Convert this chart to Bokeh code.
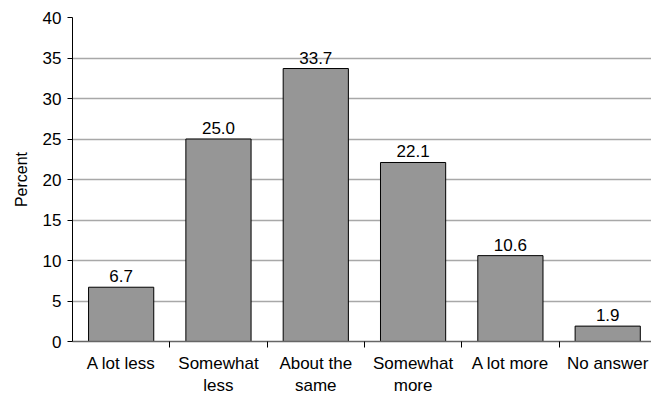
from bokeh.plotting import figure
from bokeh.models import Range1d, FixedTicker, ColumnDataSource
from bokeh.core.properties import value
from bokeh.embed import file_html
from bokeh.resources import INLINE

categories = ["A lot less", "Somewhat\nless", "About the\nsame", "Somewhat\nmore", "A lot more", "No answer"]
percent = [6.7, 25.0, 33.7, 22.1, 10.6, 1.9]
y_ticks = [0, 5, 10, 15, 20, 25, 30, 35, 40]

FONT = "Liberation Sans"
SIZE = "17px"

centers = [i + 0.5 for i in range(len(categories))]
bounds = [float(i) for i in range(1, len(categories))]
src = ColumnDataSource(dict(
    x=centers,
    top=percent,
    label=["%.1f" % v for v in percent],
))

p = figure(width=651, height=398, output_backend="svg", toolbar_location=None,
           x_range=Range1d(0, 5.95), y_range=Range1d(0, 40),
           min_border_left=72, min_border_right=0, min_border_top=17, min_border_bottom=55)
p.outline_line_color = None
p.background_fill_color = "white"
p.border_fill_color = "white"

# value axis
yticker = FixedTicker(ticks=y_ticks, minor_ticks=[])
yaxis = p.yaxis[0]
yaxis.ticker = yticker
yaxis.axis_label = "Percent"
yaxis.axis_label_text_font = FONT
yaxis.axis_label_text_font_style = "normal"
yaxis.axis_label_text_font_size = "16px"
yaxis.axis_label_text_color = "black"
yaxis.axis_label_standoff = 10
yaxis.major_label_text_font = FONT
yaxis.major_label_text_font_size = SIZE
yaxis.major_label_text_color = "black"
yaxis.major_label_standoff = 6
yaxis.axis_line_color = "black"
yaxis.major_tick_line_color = "black"
yaxis.major_tick_out = 5
yaxis.major_tick_in = 0
yaxis.minor_tick_line_color = None

# category axis: labels at bar centres, tick marks between categories
xaxis = p.xaxis[0]
xaxis.ticker = FixedTicker(ticks=centers, minor_ticks=bounds)
xaxis.major_label_overrides = {c: name for c, name in zip(centers, categories)}
xaxis.major_label_text_font = FONT
xaxis.major_label_text_font_size = SIZE
xaxis.major_label_text_color = "black"
xaxis.major_label_standoff = 6
xaxis.major_tick_out = 0
xaxis.major_tick_in = 0
xaxis.minor_tick_out = 6
xaxis.minor_tick_in = 0
xaxis.minor_tick_line_color = "black"
xaxis.axis_line_color = "#666666"
xaxis.axis_line_width = 1.5

# horizontal gridlines at the value ticks, drawn behind the bars
p.xgrid.visible = False
p.ygrid.ticker = yticker
p.ygrid.grid_line_color = "#a8a8a8"
p.ygrid.grid_line_width = 1.3

p.vbar(x="x", top="top", width=0.67, bottom=0, source=src,
       fill_color="#969696", line_color="black", line_width=1)

p.text(x="x", y="top", text="label", source=src,
       text_align="center", text_baseline="alphabetic", y_offset=-11,
       text_font=value(FONT), text_font_size=SIZE, text_color="black")

open("out.html", "w").write(file_html(p, INLINE))
